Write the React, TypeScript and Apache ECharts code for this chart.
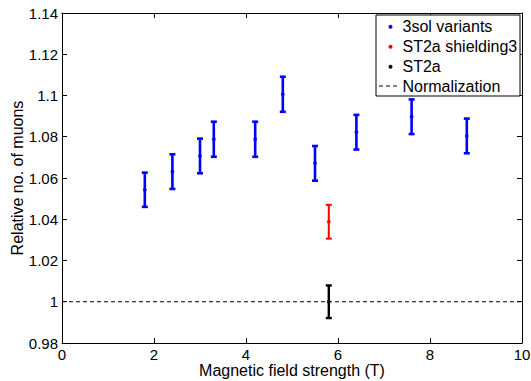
import React, { useEffect, useRef } from "react";
import * as echarts from "echarts";

// ---- data ----
const solX = [1.8, 2.4, 3.0, 3.3, 4.2, 4.8, 5.5, 6.4, 7.6, 8.8];
const solY = [1.0543, 1.0631, 1.0707, 1.0788, 1.0788, 1.1006, 1.0671, 1.0822, 1.0897, 1.0804];
const solErr = [0.0083, 0.0084, 0.0084, 0.0085, 0.0085, 0.0085, 0.0084, 0.0084, 0.0084, 0.0084];

const shieldX = [5.8];
const shieldY = [1.0388];
const shieldErr = [0.0082];

const st2aX = [5.8];
const st2aY = [1.0];
const st2aErr = [0.0079];

const normX = [0, 10];
const normY = [1, 1];

const xTicks = { min: 0, max: 10, interval: 2 };
const yTicks = { min: 0.98, max: 1.14, interval: 0.02 };

const legendNames = ["3sol variants", "ST2a shielding3", "ST2a", "Normalization"];
const legendColors = ["#0000ff", "#ff0000", "#000000", "#000000"];

const FONT = "'Liberation Sans', Arial, Helvetica, sans-serif";

function pts(xs: number[], ys: number[]) {
  return xs.map((x, i) => [x, ys[i]]);
}
function errPts(xs: number[], ys: number[], es: number[]) {
  return xs.map((x, i) => [x, ys[i], es[i]]);
}

function errorSeries(data: number[][], color: string, width: number) {
  return {
    type: "custom",
    data,
    z: 3,
    renderItem: (params: any, api: any) => {
      const x = api.value(0);
      const y = api.value(1);
      const e = api.value(2);
      const top = api.coord([x, y + e]);
      const bot = api.coord([x, y - e]);
      const hw = 3;
      const style = { stroke: color, lineWidth: width, fill: "none" };
      return {
        type: "group",
        children: [
          { type: "line", shape: { x1: top[0], y1: top[1], x2: bot[0], y2: bot[1] }, style },
          { type: "line", shape: { x1: top[0] - hw, y1: top[1], x2: top[0] + hw, y2: top[1] }, style },
          { type: "line", shape: { x1: bot[0] - hw, y1: bot[1], x2: bot[0] + hw, y2: bot[1] }, style },
        ],
      };
    },
  };
}

const axisCommon = {
  type: "value",
  axisLine: { show: true, onZero: false, lineStyle: { color: "#000", width: 1 } },
  axisTick: { show: true, inside: true, length: 5, lineStyle: { color: "#000", width: 1 } },
  splitLine: { show: false },
};

export default function App() {
  const ref = useRef<HTMLDivElement>(null);

  useEffect(() => {
    if (!ref.current) return;
    const chart = echarts.init(ref.current, undefined, { renderer: "svg" });

    const legendTop = 15;
    const rowCenters = [26.7, 46.7, 66.7, 86];
    const graphicEls: any[] = [
      {
        type: "rect",
        shape: { x: 376, y: legendTop, width: 144, height: 81 },
        style: { fill: "#fff", stroke: "#000", lineWidth: 1 },
        z: 100,
      },
    ];
    legendNames.forEach((name, i) => {
      if (i < 3) {
        graphicEls.push({
          type: "circle",
          shape: { cx: 390.5, cy: rowCenters[i], r: 2 },
          style: { fill: legendColors[i] },
          z: 101,
        });
      } else {
        graphicEls.push({
          type: "line",
          shape: { x1: 379, y1: rowCenters[i], x2: 400, y2: rowCenters[i] },
          style: { stroke: legendColors[i], lineWidth: 1, lineDash: [4, 3] },
          z: 101,
        });
      }
      graphicEls.push({
        type: "text",
        x: 402.5,
        y: rowCenters[i],
        style: {
          text: name,
          fill: "#000",
          font: `16px ${FONT}`,
          verticalAlign: "middle",
          align: "left",
        },
        z: 101,
      });
    });

    chart.setOption({
      animation: false,
      backgroundColor: "#fff",
      textStyle: { fontFamily: FONT, color: "#000" },
      grid: { left: 62, right: 9, top: 13, bottom: 38, containLabel: false, outerBoundsMode: "none" },
      xAxis: [
        {
          ...axisCommon,
          ...xTicks,
          position: "bottom",
          axisLabel: { color: "#000", fontSize: 15, lineHeight: 15, margin: 4, fontFamily: FONT },
          name: "Magnetic field strength (T)",
          nameLocation: "middle",
          nameGap: 19,
          nameMoveOverlap: false,
          nameTextStyle: { color: "#000", fontSize: 16, lineHeight: 16, fontFamily: FONT },
        },
        {
          ...axisCommon,
          ...xTicks,
          position: "top",
          axisLabel: { show: false },
        },
      ],
      yAxis: [
        {
          ...axisCommon,
          ...yTicks,
          position: "left",
          axisLabel: { color: "#000", fontSize: 15, margin: 4, fontFamily: FONT },
          name: "Relative no. of muons",
          nameLocation: "middle",
          nameGap: 37,
          nameMoveOverlap: false,
          nameTextStyle: { color: "#000", fontSize: 16, fontFamily: FONT },
        },
        {
          ...axisCommon,
          ...yTicks,
          position: "right",
          axisLabel: { show: false },
        },
      ],
      graphic: graphicEls,
      series: [
        {
          name: "Normalization",
          type: "line",
          data: pts(normX, normY),
          showSymbol: false,
          symbol: "none",
          lineStyle: { color: "#000", width: 1, type: [4, 3] },
          z: 1,
        },
        errorSeries(errPts(solX, solY, solErr), "#0000ff", 2.6),
        errorSeries(errPts(shieldX, shieldY, shieldErr), "#ff0000", 2),
        errorSeries(errPts(st2aX, st2aY, st2aErr), "#000000", 2.4),
        {
          name: "3sol variants",
          type: "scatter",
          data: pts(solX, solY),
          symbol: "circle",
          symbolSize: 4,
          itemStyle: { color: "#0000ff" },
          z: 4,
        },
        {
          name: "ST2a shielding3",
          type: "scatter",
          data: pts(shieldX, shieldY),
          symbol: "circle",
          symbolSize: 4,
          itemStyle: { color: "#ff0000" },
          z: 4,
        },
        {
          name: "ST2a",
          type: "scatter",
          data: pts(st2aX, st2aY),
          symbol: "circle",
          symbolSize: 4,
          itemStyle: { color: "#000000" },
          z: 4,
        },
      ],
    });

    return () => chart.dispose();
  }, []);

  return (
    <div
      ref={ref}
      style={{ position: "fixed", left: 0, top: 0, width: 531, height: 381, background: "#fff" }}
    />
  );
}
